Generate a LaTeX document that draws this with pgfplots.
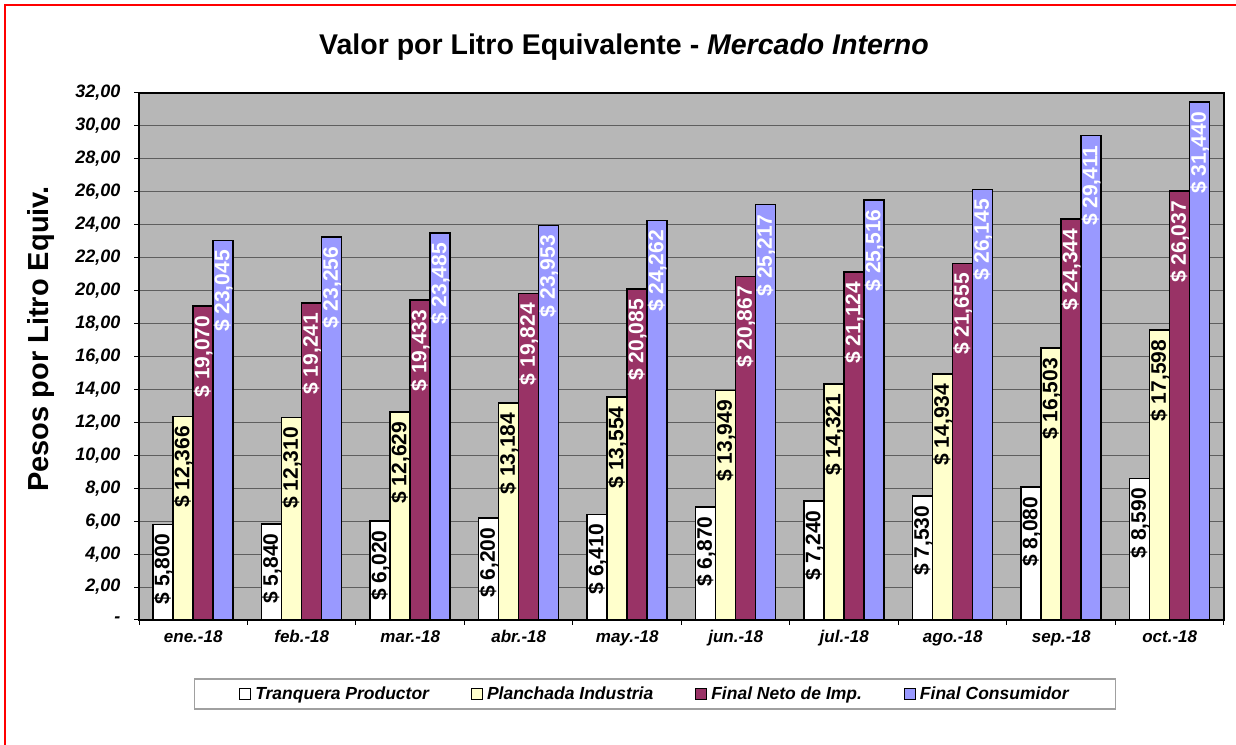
\documentclass[border=0pt]{standalone}
\usepackage{pgfplots}
\pgfplotsset{compat=1.18}
\usepackage{fontspec}
\setmainfont{Liberation Sans}
\definecolor{cYel}{HTML}{FFFFCC}
\definecolor{cMar}{HTML}{993366}
\definecolor{cBlu}{HTML}{9999FF}
\definecolor{plotbg}{HTML}{B7B7B7}
\definecolor{gridc}{HTML}{5E5E5E}
\definecolor{legc}{HTML}{A0A0A0}
\pgfplotsset{/pgf/number format/assume math mode=true}
\begin{document}
\begin{tikzpicture}
\useasboundingbox (0,0) rectangle (1236bp,745bp);
\fill[white] (0,0) rectangle (1236bp,745bp);
\draw[red, line width=2bp] (5bp,0) -- (5bp,740bp) -- (1236bp,740bp);
\node[font=\fontsize{28.5bp}{34bp}\selectfont\bfseries] at (624bp,698bp) {Valor por Litro Equivalente - \textit{Mercado Interno}};
\node[rotate=90, font=\fontsize{29bp}{34bp}\selectfont\bfseries] at (41bp,406bp) {Pesos por Litro Equiv.};
\begin{axis}[
  at={(139bp,125bp)}, anchor=south west,
  width=1085bp, height=527bp, scale only axis,
  ymin=0, ymax=32, xmin=-0.5, xmax=9.5,
  ybar=0pt, bar width=20bp,
  axis background/.style={fill=plotbg},
  axis line style={black, line width=1.5bp},
  ymajorgrids, grid style={gridc, line width=1bp},
  tick align=outside, major tick length=5bp,
  tick style={black, line width=1bp},
  xtick pos=bottom, ytick pos=left,
  ytick={0,2,...,32},
  yticklabel={\ifdim\tick pt=0pt -\hspace{12bp}\else\pgfmathprintnumber[fixed,fixed zerofill,precision=2,use comma]{\tick}\fi},
  yticklabel style={font=\fontsize{18bp}{21bp}\selectfont\bfseries\itshape, xshift=-10bp},
  xtick={-0.5,0.5,...,9.5},
  xticklabels={},
  extra x ticks={0,1,2,3,4,5,6,7,8,9},
  extra x tick labels={ene.-18,feb.-18,mar.-18,abr.-18,may.-18,jun.-18,jul.-18,ago.-18,sep.-18,oct.-18},
  extra x tick style={major tick length=0pt, grid=none},
  xticklabel style={font=\fontsize{17bp}{20bp}\selectfont\bfseries\itshape, yshift=-7bp},
  nodes near coords={\$ \pgfmathprintnumber[fixed,fixed zerofill,precision=3,use comma]{\pgfplotspointmeta}},
  nodes near coords style={rotate=90, anchor=east, inner xsep=9bp, inner ysep=1bp, font=\fontsize{21bp}{24bp}\selectfont\bfseries},
  legend image code/.code={\draw[#1, draw=black, line width=1bp] (0bp,-5.5bp) rectangle (11bp,5.5bp);},
  legend style={at={(0.4756,-0.1404)}, anchor=center, draw=legc, line width=1.5bp,
    legend columns=4, font=\fontsize{17.5bp}{21bp}\selectfont\bfseries\itshape,
    /tikz/every even column/.append style={column sep=40bp},
    /tikz/every odd column/.append style={column sep=2bp},
    inner xsep=45bp, inner ysep=6bp},
]
\addplot[fill=white, draw=black, line width=1.5bp] coordinates {(0,5.800) (1,5.840) (2,6.020) (3,6.200) (4,6.410) (5,6.870) (6,7.240) (7,7.530) (8,8.080) (9,8.590)};
\addplot[fill=cYel, draw=black, line width=1.5bp] coordinates {(0,12.366) (1,12.310) (2,12.629) (3,13.184) (4,13.554) (5,13.949) (6,14.321) (7,14.934) (8,16.503) (9,17.598)};
\addplot[fill=cMar, draw=black, line width=1.5bp, nodes near coords style={text=white}] coordinates {(0,19.070) (1,19.241) (2,19.433) (3,19.824) (4,20.085) (5,20.867) (6,21.124) (7,21.655) (8,24.344) (9,26.037)};
\addplot[fill=cBlu, draw=black, line width=1.5bp, nodes near coords style={text=white}] coordinates {(0,23.045) (1,23.256) (2,23.485) (3,23.953) (4,24.262) (5,25.217) (6,25.516) (7,26.145) (8,29.411) (9,31.440)};
\legend{Tranquera Productor, Planchada Industria, Final Neto de Imp., Final Consumidor}
\end{axis}
\end{tikzpicture}
\end{document}
